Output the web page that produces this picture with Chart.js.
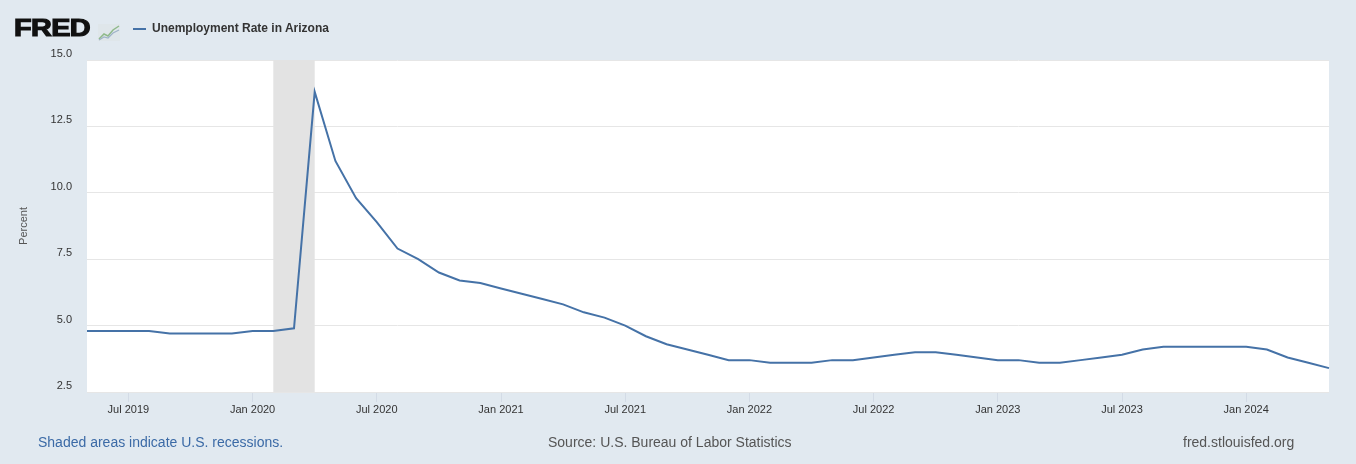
<!DOCTYPE html>
<html>
<head>
<meta charset="utf-8">
<script src="https://cdn.jsdelivr.net/npm/chart.js@4.4.1/dist/chart.umd.min.js"></script>
<style>
  body { margin: 0; background: #e1e9f0; font-family: 'Liberation Sans', Arial, sans-serif; }
  #wrap { position: relative; width: 1356px; height: 464px; overflow: hidden; }
  #chart { position: absolute; left: 0; top: 0; }
  .logo { position: absolute; left: 14px; top: 14px; font-size: 24px; font-weight: bold; color: #111;
          -webkit-text-stroke: 1.2px #111;
          letter-spacing: -0.5px; transform: scaleX(1.2); transform-origin: left top; }
  .icon { position: absolute; left: 98px; top: 24px; }
  .legline { position: absolute; left: 133px; top: 28px; width: 13px; height: 2px; background: #4572a7; }
  .legtext { position: absolute; left: 152px; top: 21px; font-size: 12px; font-weight: bold; color: #333; }
  .foot { position: absolute; top: 434px; font-size: 14px; color: #555; }
</style>
</head>
<body>
<div id="wrap">
  <canvas id="chart" width="1356" height="464"></canvas>
  <div class="logo">FRED</div>
  <svg class="icon" width="22" height="17" viewBox="0 0 22 17">
    <rect x="0" y="0" width="22" height="17" fill="#dfe6ea"/>
    <polyline points="1,15 6,10 10,12 15,6 21,2" fill="none" stroke="#8fb98a" stroke-width="1.5"/>
    <polyline points="1,16 6,13 10,14 15,9 21,6" fill="none" stroke="#9fb3c8" stroke-width="1.2"/>
  </svg>
  <div class="legline"></div>
  <div class="legtext">Unemployment Rate in Arizona</div>
  <div class="foot" style="left:38px; color:#3b6aa6;">Shaded areas indicate U.S. recessions.</div>
  <div class="foot" style="left:548px;">Source: U.S. Bureau of Labor Statistics</div>
  <div class="foot" style="left:1183px;">fred.stlouisfed.org</div>
</div>
<script>
const months = [
  '2019-05','2019-06','2019-07','2019-08','2019-09','2019-10','2019-11','2019-12',
  '2020-01','2020-02','2020-03','2020-04','2020-05','2020-06','2020-07','2020-08','2020-09','2020-10','2020-11','2020-12',
  '2021-01','2021-02','2021-03','2021-04','2021-05','2021-06','2021-07','2021-08','2021-09','2021-10','2021-11','2021-12',
  '2022-01','2022-02','2022-03','2022-04','2022-05','2022-06','2022-07','2022-08','2022-09','2022-10','2022-11','2022-12',
  '2023-01','2023-02','2023-03','2023-04','2023-05','2023-06','2023-07','2023-08','2023-09','2023-10','2023-11','2023-12',
  '2024-01','2024-02','2024-03','2024-04','2024-05'
];

const unemploymentRate = [
  4.8, 4.8, 4.8, 4.8, 4.7, 4.7, 4.7, 4.7,
  4.8, 4.8, 4.9, 13.8, 11.2, 9.8, 8.9, 7.9, 7.5, 7.0, 6.7, 6.6,
  6.4, 6.2, 6.0, 5.8, 5.5, 5.3, 5.0, 4.6, 4.3, 4.1, 3.9, 3.7,
  3.7, 3.6, 3.6, 3.6, 3.7, 3.7, 3.8, 3.9, 4.0, 4.0, 3.9, 3.8,
  3.7, 3.7, 3.6, 3.6, 3.7, 3.8, 3.9, 4.1, 4.2, 4.2, 4.2, 4.2,
  4.2, 4.1, 3.8, 3.6, 3.4
];

const tickMonths = ['2019-07','2020-01','2020-07','2021-01','2021-07','2022-01','2022-07','2023-01','2023-07','2024-01'];
const tickLabels = ['Jul 2019','Jan 2020','Jul 2020','Jan 2021','Jul 2021','Jan 2022','Jul 2022','Jan 2023','Jul 2023','Jan 2024'];

const recessionStart = '2020-02';
const recessionEnd = '2020-04';

// white plot area + grey recession band
const plotBackground = {
  id: 'plotBackground',
  beforeDraw(chart) {
    const { ctx, chartArea } = chart;
    ctx.save();
    ctx.fillStyle = '#ffffff';
    ctx.fillRect(chartArea.left, chartArea.top, chartArea.right - chartArea.left, chartArea.bottom - chartArea.top);
    ctx.restore();
  },
  beforeDatasetsDraw(chart) {
    const { ctx, chartArea, scales } = chart;
    const x1 = scales.x.getPixelForValue(months.indexOf(recessionStart));
    const x2 = scales.x.getPixelForValue(months.indexOf(recessionEnd));
    ctx.save();
    ctx.fillStyle = '#e3e3e3';
    ctx.fillRect(x1, chartArea.top, x2 - x1, chartArea.bottom - chartArea.top);
    ctx.restore();
  }
};

const ctx = document.getElementById('chart').getContext('2d');
new Chart(ctx, {
  type: 'line',
  data: {
    labels: months,
    datasets: [{
      label: 'Unemployment Rate in Arizona',
      data: unemploymentRate,
      borderColor: '#4572a7',
      borderWidth: 2,
      pointRadius: 0,
      tension: 0,
      fill: false
    }]
  },
  options: {
    responsive: false,
    animation: false,
    layout: { padding: { top: 60, right: 27, bottom: 48, left: 0 } },
    plugins: {
      legend: { display: false },
      tooltip: { enabled: false }
    },
    scales: {
      x: {
        type: 'category',
        offset: false,
        afterFit(scale) { scale.height = 24; },
        border: { display: false },
        grid: {
          drawOnChartArea: false,
          drawTicks: true,
          tickLength: 10,
          color: c => tickMonths.includes(months[c.index]) ? '#d3dbe6' : 'rgba(0,0,0,0)'
        },
        ticks: {
          autoSkip: false,
          maxRotation: 0,
          padding: 1,
          color: '#333',
          font: { family: "'Liberation Sans', Arial, sans-serif", size: 11 },
          callback: function(value, index) {
            const i = tickMonths.indexOf(months[index]);
            return i >= 0 ? tickLabels[i] : '';
          }
        }
      },
      y: {
        min: 2.5,
        max: 15,
        afterFit(scale) { scale.width = 87; },
        border: { display: false },
        grid: { color: '#e6e6e6', drawTicks: false },
        ticks: {
          stepSize: 2.5,
          padding: 15,
          labelOffset: -6,
          color: '#333',
          font: { family: "'Liberation Sans', Arial, sans-serif", size: 11 },
          callback: v => v.toFixed(1)
        },
        title: {
          display: true,
          text: 'Percent',
          color: '#555',
          padding: { top: 17, bottom: 0 },
          font: { family: "'Liberation Sans', Arial, sans-serif", size: 11 }
        }
      }
    }
  },
  plugins: [plotBackground]
});
</script>
</body>
</html>
